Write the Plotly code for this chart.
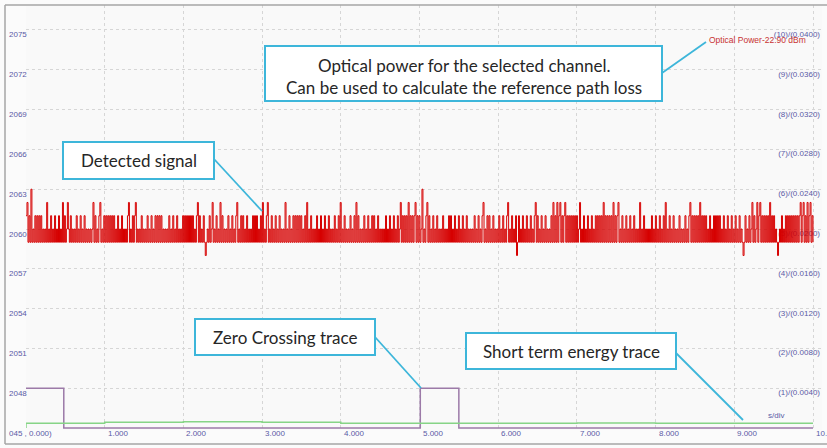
import plotly.graph_objects as go

# ---------------- data ----------------
# Detected signal (ADC counts). Each character is one sample, value = SIGNAL_BASE + digit
SIGNAL_BASE = 2058
signal_codes = [
    "3413151213" "1313131212" "1412131213" "1213121413" "1242131212",
    "1312131213" "1212121241" "3121341213" "1313131313" "1213121312",
    "1213412131" "3412121312" "1213121312" "1313131312" "1212131213",
    "1213121213" "1313131313" "1213413121" "3101213124" "1213121413",
    "1212131213" "1213412131" "3121312121" "3131312131" "4121341213",
    "1213121312" "1214121312" "1313131313" "1213141213" "1212131213",
    "1213121312" "1213121314" "1213121213" "1213141312" "1213121312",
    "1313121312" "1212131213" "1213121312" "4131313141" "3131341313",
    "1251213413" "1213121312" "1213121213" "1312131213" "1213121312",
    "1212131213" "1213412131" "3121312121" "3121312134" "1213121301",
    "3121312131" "2131213413" "1213121312" "1213141314" "1341313413",
    "1313131313" "1241213121" "3121312131" "3131314131" "3131314131",
    "3412131213" "1213121312" "1214121312" "1212131213" "1213121314",
    "1213121312" "1213121213" "1213413131" "3131413131" "3121312131",
    "3131312131" "2131213121" "3121312101" "3121312413" "1241341313",
    "1313141313" "1210121312" "1313131313" "1313134134" "1314134131",
]
SIGNAL_T_START = 0.0
SIGNAL_T_END = 10.0

# Zero crossing trace (step, held until next time)
zc_time = [0.0, 0.48, 5.01, 5.50, 10.0]
zc_level = [2048, 2045, 2048, 2045, 2045]

# Short term energy trace (step)
energy_time = [0.0, 0.0, 1.0, 2.0, 3.0, 4.0, 5.0, 6.0, 7.0, 8.0, 9.0, 10.0]
energy_level = [2045.0, 2045.35, 2045.43, 2045.47, 2045.43, 2045.36, 2045.35,
                2045.36, 2045.38, 2045.36, 2045.36, 2045.36]

# axis ticks / labels
x_tick_values = [1, 2, 3, 4, 5, 6, 7, 8, 9, 10]
x_tick_labels = ["1.000", "2.000", "3.000", "4.000", "5.000",
                 "6.000", "7.000", "8.000", "9.000", "10.0"]
y_tick_values = [2048, 2051, 2054, 2057, 2060, 2063, 2066, 2069, 2072, 2075]
y_tick_labels = ["2048", "2051", "2054", "2057", "2060",
                 "2063", "2066", "2069", "2072", "2075"]
right_tick_labels = ["(1)/(0.0040)", "(2)/(0.0080)", "(3)/(0.0120)", "(4)/(0.0160)",
                     "(5)/(0.0200)", "(6)/(0.0240)", "(7)/(0.0280)", "(8)/(0.0320)",
                     "(9)/(0.0360)", "(10)/(0.0400)"]
origin_label = "045 , 0.000)"
unit_label = "s/div"
power_label = "Optical Power-22.90 dBm"

callout_texts = ["Detected signal", "Zero Crossing trace", "Short term energy trace"]
optical_callout_lines = ["Optical power for the selected channel.",
                         "Can be used to calculate the reference path loss"]

# ---------------- geometry helpers (pixels -> paper) ----------------
W, H = 827, 448
L, R, T, B = 26, 822, 5, 430     # plot area in pixels
X_UNIT_PX = 78.7                 # pixels per second on the time axis
X_MAX = (R - L) / X_UNIT_PX
def PX(px):
    return (px - L) / (R - L)
def PY(py):
    return (B - py) / (B - T)

Y_MIN, Y_MAX = 2044.849, 2076.884
px_per_y = (B - T) / (Y_MAX - Y_MIN)
label_drop = 5 / px_per_y          # labels sit ~5 px below their grid line

signal_str = "".join(signal_codes)
n = len(signal_str)
signal_time = [SIGNAL_T_START + i * (SIGNAL_T_END - SIGNAL_T_START) / (n - 1) for i in range(n)]
signal_value = [SIGNAL_BASE + int(c) for c in signal_str]

AXIS_TXT = "#5a5aa6"
SMALL_FONT = "Liberation Sans, Arial, sans-serif"
BOX_FONT = "Lato, Open Sans, sans-serif"
CYAN = "#3db6da"

fig = go.Figure()

# right-hand labels (drawn first so that the signal covers the (5) label)
fig.add_trace(go.Scatter(
    x=[10 + 7 / X_UNIT_PX] * len(right_tick_labels),
    y=[v - label_drop for v in y_tick_values],
    text=right_tick_labels, mode="text", textposition="middle left",
    textfont=dict(family=SMALL_FONT, size=8, color=AXIS_TXT),
    cliponaxis=False, hoverinfo="skip", showlegend=False))

fig.add_trace(go.Scatter(x=zc_time, y=zc_level, mode="lines", line_shape="hv",
                         line=dict(color="#9c7aa8", width=1.5), showlegend=False,
                         cliponaxis=False, hoverinfo="skip"))
fig.add_trace(go.Scatter(x=energy_time, y=energy_level, mode="lines", line_shape="hv",
                         line=dict(color="#86d486", width=1.5), showlegend=False,
                         hoverinfo="skip"))
fig.add_trace(go.Scatter(x=signal_time, y=signal_value, mode="lines", line_shape="hv",
                         line=dict(color="#d60000", width=1, simplify=False),
                         showlegend=False, hoverinfo="skip"))

shapes = []
# window frame
for (x0, y0, x1, y1) in [(5, 5, 5, 444), (5, 5, 827, 5), (5, 444, 827, 444)]:
    shapes.append(dict(type="line", xref="paper", yref="paper",
                       x0=PX(x0), y0=PY(y0), x1=PX(x1), y1=PY(y1),
                       line=dict(color="#a6a6a6", width=1.5)))

# callout boxes and leader lines (pixel positions)
boxes = [(265, 46, 662, 101), (63, 142, 214, 179), (195, 319, 375, 355), (466, 333, 676, 369)]
leaders = [(662, 73, 706, 42), (214, 159, 262, 211), (375, 337, 421, 388), (676, 353, 743, 420)]
for (x0, y0, x1, y1) in leaders:
    shapes.append(dict(type="line", xref="paper", yref="paper",
                       x0=PX(x0), y0=PY(y0), x1=PX(x1), y1=PY(y1),
                       line=dict(color=CYAN, width=1.8)))
for (x0, y0, x1, y1) in boxes:
    shapes.append(dict(type="rect", xref="paper", yref="paper",
                       x0=PX(x0), y0=PY(y0), x1=PX(x1), y1=PY(y1),
                       fillcolor="white", line=dict(color=CYAN, width=2)))

ann = []
BOX_SIZE = 17
for i, line in enumerate(optical_callout_lines):
    ann.append(dict(xref="paper", yref="paper", x=PX(464), y=PY(65 + 22 * i),
                    text=line, showarrow=False, xanchor="center", yanchor="middle",
                    font=dict(family=BOX_FONT, size=BOX_SIZE, color="#262626")))
for txt, (x0, y0, x1, y1) in zip(callout_texts, boxes[1:]):
    ann.append(dict(xref="paper", yref="paper", x=PX((x0 + x1) / 2), y=PY((y0 + y1) / 2),
                    text=txt, showarrow=False, xanchor="center", yanchor="middle",
                    font=dict(family=BOX_FONT, size=BOX_SIZE, color="#262626")))

# left axis labels
for v, t in zip(y_tick_values, y_tick_labels):
    ann.append(dict(xref="paper", yref="y", x=PX(7), y=v - label_drop, text=t,
                    showarrow=False, xanchor="left", yanchor="middle",
                    font=dict(family=SMALL_FONT, size=8, color=AXIS_TXT)))
# bottom axis labels
for v, t in zip(x_tick_values, x_tick_labels):
    ann.append(dict(xref="x", yref="paper", x=v, xshift=1, y=PY(433), text=t,
                    showarrow=False, xanchor="left", yanchor="middle",
                    font=dict(family=SMALL_FONT, size=8, color=AXIS_TXT)))
ann.append(dict(xref="paper", yref="paper", x=PX(7), y=PY(433), text=origin_label,
                showarrow=False, xanchor="left", yanchor="middle",
                font=dict(family=SMALL_FONT, size=8, color=AXIS_TXT)))
ann.append(dict(xref="paper", yref="paper", x=PX(776), y=PY(415), text=unit_label,
                showarrow=False, xanchor="center", yanchor="middle",
                font=dict(family=SMALL_FONT, size=8, color=AXIS_TXT)))
ann.append(dict(xref="paper", yref="paper", x=PX(707), y=PY(40), text=power_label,
                showarrow=False, xanchor="left", yanchor="middle",
                font=dict(family=SMALL_FONT, size=8.5, color="#c83232")))

fig.update_layout(
    width=W, height=H,
    margin=dict(l=L, r=W - R, t=T, b=H - B, pad=0, autoexpand=False),
    paper_bgcolor="#fbfbfb", plot_bgcolor="#f9f9f9",
    shapes=shapes, annotations=ann, showlegend=False,
    xaxis=dict(range=[0, X_MAX], tickvals=x_tick_values, showticklabels=False,
               showgrid=True, gridcolor="#d6d6d6", griddash="dot", gridwidth=1,
               zeroline=False, showline=False, ticks=""),
    yaxis=dict(range=[Y_MIN, Y_MAX], tickvals=y_tick_values, showticklabels=False,
               showgrid=True, gridcolor="#d6d6d6", griddash="dot", gridwidth=1,
               zeroline=False, showline=False, ticks=""),
)

fig.write_html("out.html", config={"displayModeBar": False},
               post_script="document.body.style.margin='0';")
